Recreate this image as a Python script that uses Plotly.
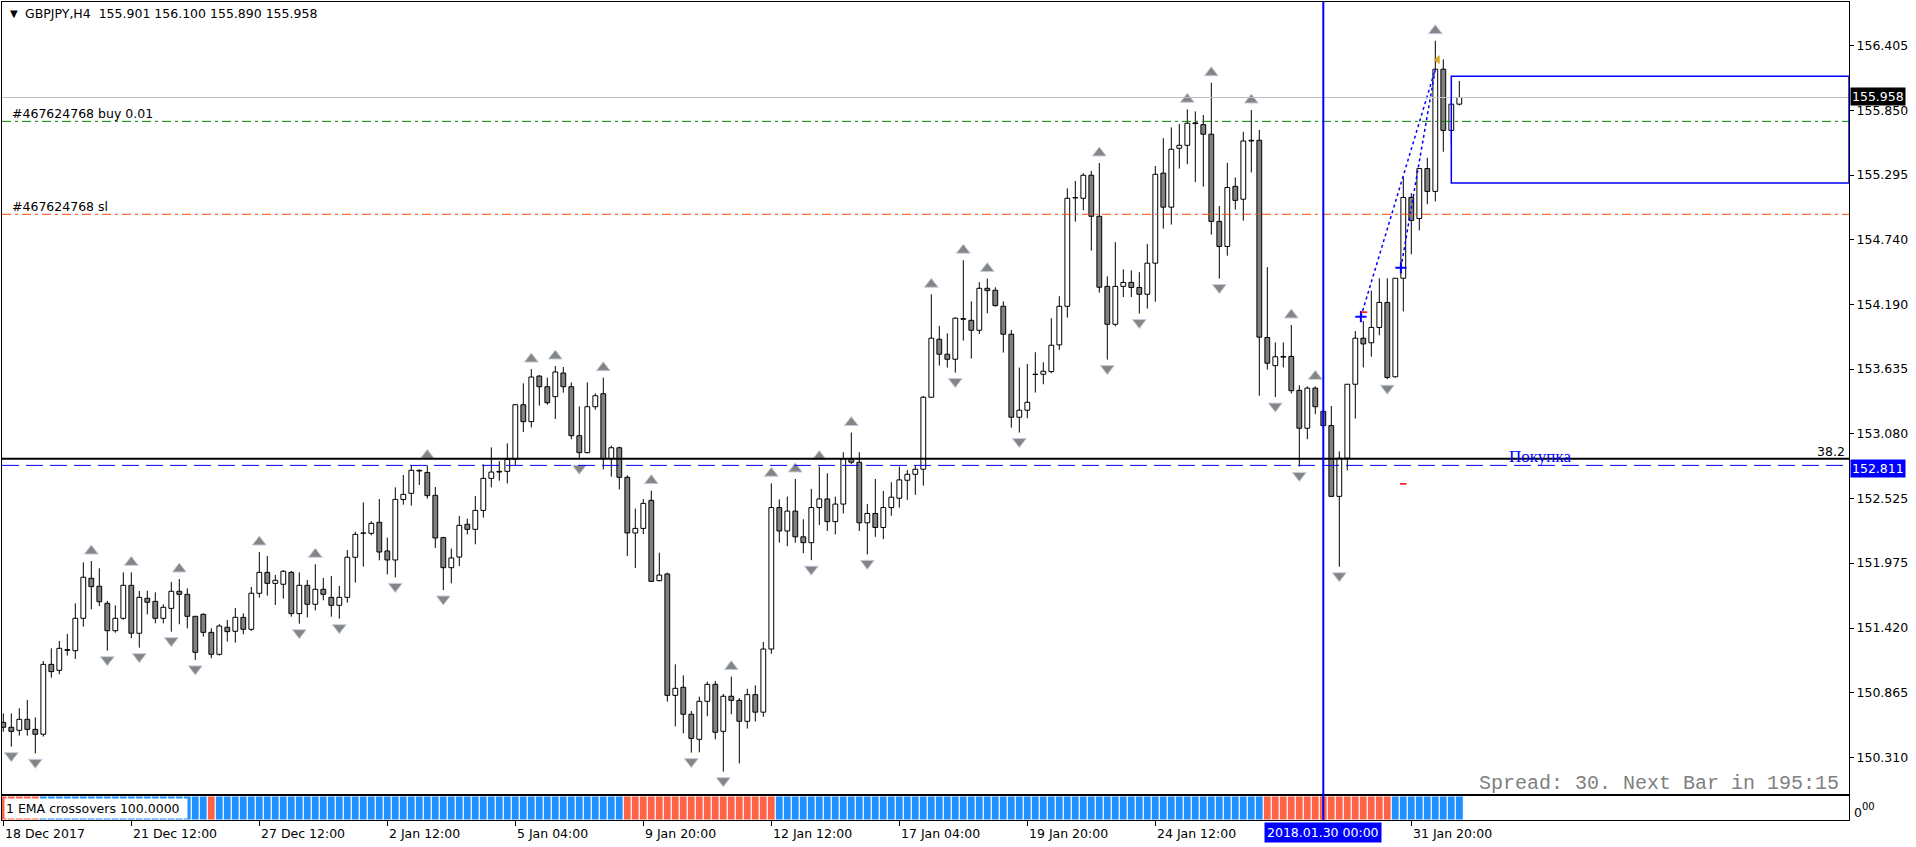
import plotly.graph_objects as go

# ---------------- data (GBPJPY H4) ----------------
O = [
150.613,150.571,150.545,150.639,150.553,150.511,151.109,151.058,151.235,151.226,
151.503,151.845,151.777,151.631,151.397,151.503,151.785,151.375,151.674,151.648,
151.503,151.588,151.734,151.708,151.520,151.537,151.383,151.195,151.426,151.392,
151.511,151.409,151.717,151.896,151.802,151.794,151.896,151.543,151.785,151.623,
151.751,151.682,151.614,151.682,152.025,152.230,152.230,152.324,152.079,152.002,
152.520,152.572,152.769,152.751,152.555,152.193,151.936,152.027,152.307,152.264,
152.426,152.700,152.760,152.760,152.863,153.330,153.185,153.575,153.484,153.399,
153.601,153.484,153.065,152.920,153.313,153.424,152.868,152.962,152.709,152.233,
152.272,152.512,151.825,151.882,150.844,150.913,150.682,150.468,150.793,150.938,
150.536,150.836,150.801,150.622,150.850,150.700,151.240,152.450,152.250,152.420,
152.200,152.150,152.450,152.524,152.330,152.480,152.866,152.838,152.320,152.400,
152.280,152.450,152.530,152.684,152.735,152.778,153.394,153.890,153.762,153.719,
154.067,154.052,153.967,154.326,154.309,154.172,153.933,153.223,153.283,153.591,
153.591,153.613,153.842,154.172,155.102,155.096,155.293,154.942,154.342,154.018,
154.342,154.376,154.333,154.275,154.541,155.311,155.020,155.524,155.549,155.741,
155.726,155.644,154.898,154.684,155.198,155.088,155.592,155.592,153.905,153.664,
153.743,153.743,153.453,153.129,153.472,153.273,153.151,152.546,152.873,153.505,
153.899,153.860,153.991,154.205,153.569,154.412,155.103,154.923,155.350,155.155,
156.200,155.677,155.901]

H = [
150.690,150.690,150.733,150.804,150.656,151.138,151.246,151.309,151.369,151.631,
151.982,151.993,151.931,151.651,151.614,151.896,151.896,151.737,151.739,151.725,
151.623,151.814,151.839,151.759,151.523,151.546,151.417,151.452,151.489,151.591,
151.546,151.771,152.070,152.036,151.874,151.916,151.908,151.896,151.831,151.965,
151.848,151.865,151.779,152.087,152.244,152.495,152.333,152.523,152.193,152.623,
152.729,152.811,152.777,152.811,152.626,152.201,152.099,152.378,152.355,152.549,
152.820,152.965,152.848,152.999,153.336,153.513,153.635,153.584,153.561,153.661,
153.652,153.521,153.316,153.521,153.427,153.561,152.980,152.971,152.726,152.441,
152.523,152.595,152.064,151.893,151.109,151.015,150.710,150.833,150.961,150.967,
150.856,151.004,150.820,150.900,150.930,151.300,152.658,152.520,152.544,152.695,
152.350,152.610,152.801,152.744,152.544,152.924,153.092,152.924,152.480,152.695,
152.593,152.667,152.801,152.772,152.809,153.405,154.275,154.004,153.941,154.078,
154.566,154.215,154.378,154.409,154.335,154.215,153.970,153.648,153.679,153.779,
153.693,154.070,154.258,155.181,155.244,155.310,155.330,155.398,154.428,154.721,
154.489,154.480,154.464,154.706,155.372,155.610,155.702,155.732,155.857,155.839,
155.809,156.084,155.030,155.399,155.274,155.665,155.851,155.680,154.507,153.863,
153.863,154.012,153.496,153.487,153.487,153.279,153.319,152.931,153.505,153.960,
154.046,154.306,154.412,154.412,154.412,155.274,155.140,155.350,155.442,156.444,
156.285,155.950,156.100]

L = [
150.533,150.405,150.499,150.499,150.348,150.491,150.995,151.024,151.184,151.155,
151.432,151.580,151.608,151.226,151.380,151.491,151.332,151.252,151.537,151.460,
151.460,151.389,151.452,151.417,151.147,151.346,151.161,151.184,151.303,151.295,
151.366,151.395,151.680,151.697,151.617,151.671,151.517,151.457,151.511,151.571,
151.657,151.517,151.500,151.637,151.808,151.945,152.213,151.999,151.879,151.853,
152.475,152.466,152.643,152.526,152.104,151.745,151.802,151.950,152.221,152.136,
152.364,152.623,152.680,152.657,152.814,153.096,153.136,153.322,153.330,153.208,
153.433,153.034,152.863,152.914,153.287,152.777,152.714,152.606,152.036,151.933,
152.224,151.814,151.819,150.790,150.579,150.519,150.354,150.357,150.665,150.468,
150.191,150.682,150.262,150.560,150.620,150.660,151.200,152.150,152.120,152.150,
152.060,152.000,152.300,152.250,152.220,152.400,152.821,152.250,152.050,152.200,
152.180,152.380,152.450,152.516,152.559,152.638,153.394,153.665,153.648,153.605,
153.879,153.725,153.936,154.112,154.169,153.776,153.134,153.092,153.214,153.434,
153.505,153.599,153.799,154.075,154.896,154.993,154.648,154.289,153.716,154.000,
154.251,154.251,154.110,154.153,154.211,154.837,154.871,155.350,155.387,155.234,
155.195,154.785,154.409,154.605,154.999,154.904,155.317,153.407,153.630,153.395,
153.649,153.426,152.802,153.035,153.249,153.145,152.540,151.944,152.769,153.212,
153.649,153.740,153.924,153.548,153.563,154.128,154.617,154.822,155.045,155.069,
155.494,155.550,155.890]

C = [
150.571,150.536,150.639,150.553,150.511,151.109,151.047,151.246,151.229,151.503,
151.854,151.774,151.645,151.397,151.503,151.785,151.375,151.682,151.640,151.503,
151.597,151.734,151.708,151.520,151.212,151.383,151.195,151.437,151.389,151.511,
151.409,151.717,151.896,151.802,151.828,151.905,151.543,151.785,151.623,151.751,
151.708,151.614,151.682,152.025,152.221,152.233,152.315,152.070,152.002,152.520,
152.563,152.769,152.763,152.552,152.190,151.936,152.019,152.298,152.264,152.426,
152.700,152.754,152.754,152.863,153.330,153.185,153.567,153.484,153.347,153.610,
153.484,153.065,152.920,153.313,153.407,152.868,152.962,152.709,152.233,152.272,
152.486,151.819,151.873,150.844,150.904,150.682,150.476,150.793,150.938,150.528,
150.836,150.801,150.622,150.850,150.700,151.240,152.450,152.250,152.420,152.200,
152.150,152.450,152.524,152.330,152.480,152.866,152.838,152.320,152.400,152.280,
152.450,152.539,152.687,152.735,152.778,153.394,153.899,153.762,153.719,154.070,
154.061,153.967,154.326,154.306,154.178,153.933,153.223,153.283,153.351,153.588,
153.616,153.839,154.172,155.096,155.099,155.293,154.942,154.335,154.018,154.342,
154.376,154.333,154.275,154.541,155.301,155.020,155.515,155.549,155.738,155.735,
155.644,154.898,154.684,155.188,155.078,155.586,155.586,153.908,153.685,153.740,
153.737,153.450,153.129,153.472,153.313,153.151,152.546,152.873,153.505,153.899,
153.850,153.991,154.205,153.563,154.412,155.103,154.907,155.350,155.155,156.200,
155.677,155.901,155.958]

fractal_up = [11,16,22,32,39,53,66,69,75,81,91,96,99,102,106,116,120,123,137,148,151,156,161,164,179]
fractal_down = [1,4,13,17,21,24,37,42,49,55,72,86,90,101,108,119,127,138,142,152,159,162,167,173]

ema_runs = [(-1,5),(1,21),(-1,1),(1,51),(-1,19),(1,61),(-1,16),(1,9)]

price_ticks = [156.405,155.850,155.295,154.740,154.190,153.635,153.080,152.525,151.975,151.420,150.865,150.310]
date_tick_idx = [0,16,32,48,64,80,96,112,128,144,176]
date_tick_lbl = ["18 Dec 2017","21 Dec 12:00","27 Dec 12:00","2 Jan 12:00","5 Jan 04:00","9 Jan 20:00",
                 "12 Jan 12:00","17 Jan 04:00","19 Jan 20:00","24 Jan 12:00","31 Jan 20:00"]
cursor_idx, cursor_lbl = 165, "2018.01.30 00:00"

bid = 155.958
buy_price = 155.754
sl_price = 154.959
fibo_382 = 152.868
pending_price = 152.811
box_top, box_bot, box_start = 156.139, 155.227, 181
trendA = ((169.7, 154.083), (179.0, 156.199))
trendB = ((174.7, 154.501), (179.0, 156.199))
cross_marks = [(169.7, 154.083), (174.7, 154.501)]
red_marks = [(170.1, 154.122), (175.0, 152.653)]

assert len(O) == len(H) == len(L) == len(C) == 183

# ---------------- geometry ----------------
W, HT = 1916, 847
PL, PR, PT, PB = 2, 1849, 2, 820
X0 = (PL - 3.3) / 8.0
X1 = X0 + (PR - PL) / 8.0
YMIN, YMAX = 150.000, 156.775
MAIN_BOT = (PB - 794) / (PB - PT)
IND_TOP = (PB - 796) / (PB - PT)
PPX = (YMAX - YMIN) / (794 - 2)   # price per pixel

def pxx(x):
    return (x - PL) / (PR - PL)

def pyy(y):
    return (PB - y) / (PB - PT)

n = len(O)
idx = list(range(n))
FONT = "DejaVu Sans"
FS = 12.5

fig = go.Figure()

# indicator pane
ema_sig = []
for s, cnt in ema_runs:
    ema_sig += [s] * cnt
fig.add_trace(go.Bar(x=idx, y=[1] * n, width=1.0, xaxis="x2", yaxis="y2",
                     marker=dict(color=["#1e90ff" if s > 0 else "#ff6347" for s in ema_sig],
                                 line=dict(color="#ffffff", width=1)),
                     hoverinfo="skip", showlegend=False))

# candle bodies
base = [min(o, c) for o, c in zip(O, C)]
hgt = [max(abs(c - o), 0.003) for o, c in zip(O, C)]
fill = ["#ffffff" if c >= o else "#808080" for o, c in zip(O, C)]
fig.add_trace(go.Bar(x=idx, y=hgt, base=base, width=0.6,
                     marker=dict(color=fill, line=dict(color="#000000", width=1)),
                     hoverinfo="skip", showlegend=False))

# wicks
wx, wy = [], []
for i in idx:
    top, bot = max(O[i], C[i]), min(O[i], C[i])
    wx += [i, i, None, i, i, None]
    wy += [H[i], top, None, bot, L[i], None]
fig.add_trace(go.Scatter(x=wx, y=wy, mode="lines", line=dict(color="#000000", width=1),
                         hoverinfo="skip", showlegend=False))

# fractal arrows
fig.add_trace(go.Scatter(x=fractal_up, y=[H[i] + 10 * PPX for i in fractal_up], mode="markers",
                         marker=dict(symbol="triangle-up", size=12, color="#858585",
                                     line=dict(color="#c4cede", width=1)),
                         hoverinfo="skip", showlegend=False))
fig.add_trace(go.Scatter(x=fractal_down, y=[L[i] - 9 * PPX for i in fractal_down], mode="markers",
                         marker=dict(symbol="triangle-down", size=12, color="#858585",
                                     line=dict(color="#c4cede", width=1)),
                         hoverinfo="skip", showlegend=False))

# trend lines (dotted blue)
for (a, b) in (trendA, trendB):
    fig.add_trace(go.Scatter(x=[a[0], b[0]], y=[a[1], b[1]], mode="lines",
                             line=dict(color="#0000ff", width=1.5, dash="dot"),
                             hoverinfo="skip", showlegend=False))
fig.add_trace(go.Scatter(x=[p[0] for p in cross_marks], y=[p[1] for p in cross_marks], mode="markers",
                         marker=dict(symbol="cross-thin", size=8, line=dict(color="#0000ff", width=2)),
                         hoverinfo="skip", showlegend=False))
fig.add_trace(go.Scatter(x=[179.3], y=[H[179] - 19 * PPX], mode="markers",
                         marker=dict(symbol="triangle-left", size=8, color="#daa520"),
                         hoverinfo="skip", showlegend=False))

shapes = []
def hline(yv, color, width=1, dash="solid"):
    shapes.append(dict(type="line", xref="paper", x0=0, x1=1, yref="y", y0=yv, y1=yv,
                       line=dict(color=color, width=width, dash=dash), layer="above"))

hline(bid, "#c0c0c0", 1)
hline(buy_price, "#008000", 1, "9px,4px,3px,4px")
hline(sl_price, "#ff4500", 1, "9px,4px,3px,4px")
hline(fibo_382, "#000000", 2)
hline(pending_price, "#0000ff", 1, "17px,7px")
shapes.append(dict(type="line", xref="x", x0=cursor_idx, x1=cursor_idx, yref="paper", y0=0, y1=1,
                   line=dict(color="#0000ff", width=2), layer="above"))
shapes.append(dict(type="rect", xref="x", x0=box_start, x1=X1, yref="y", y0=box_bot, y1=box_top,
                   line=dict(color="#0000ff", width=1.5), fillcolor="rgba(0,0,0,0)", layer="above"))
for (xm, ym) in red_marks:
    shapes.append(dict(type="line", xref="x", x0=xm - 0.4, x1=xm + 0.4, yref="y", y0=ym, y1=ym,
                       line=dict(color="#ff0000", width=1.5), layer="above"))

ann = []
def text(x, y, s, size=FS, color="#000000", xanchor="left", family=FONT, bg=None, **kw):
    d = dict(xref="paper", yref="paper", x=pxx(x), y=pyy(y), text=s, showarrow=False,
             xanchor=xanchor, yanchor="middle", font=dict(family=family, size=size, color=color))
    if bg:
        d["bgcolor"] = bg
    d.update(kw)
    ann.append(d)

text(8, 14, "\u25bc", size=10)
text(23, 14, "GBPJPY,H4\u00a0\u00a0155.901 156.100 155.890 155.958")
text(10, 113, "#467624768 buy 0.01")
text(10, 206, "#467624768 sl")
text(1847, 452, "38.2", xanchor="right")
text(1540, 456, "Покупка", size=17, color="#0000ff", xanchor="center", family="Liberation Serif")
text(1477, 783, "Spread: 30. Next Bar in 195:15", size=20, color="#808080", family="Liberation Mono")
text(1850, 96, "155.958", color="#ffffff", bg="#000000", borderpad=1)
text(1850, 468, "152.811", color="#ffffff", bg="#0000ff", borderpad=1)
text(1852, 812, "0")
text(1860, 806, "00", size=10)
text(4, 808, "1 EMA crossovers 100.0000", bg="#ffffff", borderpad=1, width=180, height=17, align="left")
for i, lbl in zip(date_tick_idx, date_tick_lbl):
    text(3.3 + 8 * i, 833, lbl)
text(3.3 + 8 * cursor_idx, 832, cursor_lbl, color="#ffffff", xanchor="center",
     bg="#0000ff", borderpad=2)

fig.update_layout(
    width=W, height=HT, autosize=False,
    margin=dict(l=PL, r=W - PR, t=PT, b=HT - PB, pad=0),
    paper_bgcolor="#ffffff", plot_bgcolor="#ffffff",
    barmode="overlay", showlegend=False, hovermode=False,
    shapes=shapes, annotations=ann,
    xaxis=dict(domain=[0, 1], range=[X0, X1], anchor="y", showgrid=False, zeroline=False,
               showticklabels=False, ticks="", showline=True, mirror=True, linecolor="#000000",
               linewidth=1),
    yaxis=dict(domain=[MAIN_BOT, 1], range=[YMIN, YMAX], side="right", anchor="x",
               tickvals=price_ticks, ticktext=[f"{v:.3f}" for v in price_ticks],
               ticks="outside", ticklen=4, tickcolor="#000000",
               tickfont=dict(family=FONT, size=FS, color="#000000"),
               showgrid=False, zeroline=False, showline=True, mirror=True,
               linecolor="#000000", linewidth=1),
    xaxis2=dict(domain=[0, 1], range=[X0, X1], anchor="y2", showgrid=False, zeroline=False,
                tickvals=date_tick_idx, ticks="outside", ticklen=5, tickcolor="#000000",
                showticklabels=False, showline=True, mirror=True, linecolor="#000000",
                linewidth=1),
    yaxis2=dict(domain=[0, IND_TOP], range=[0, 1], anchor="x2", side="right",
                showticklabels=False, ticks="", showgrid=False, zeroline=False,
                showline=True, mirror=True, linecolor="#000000", linewidth=1),
)

fig.write_html("out.html")
